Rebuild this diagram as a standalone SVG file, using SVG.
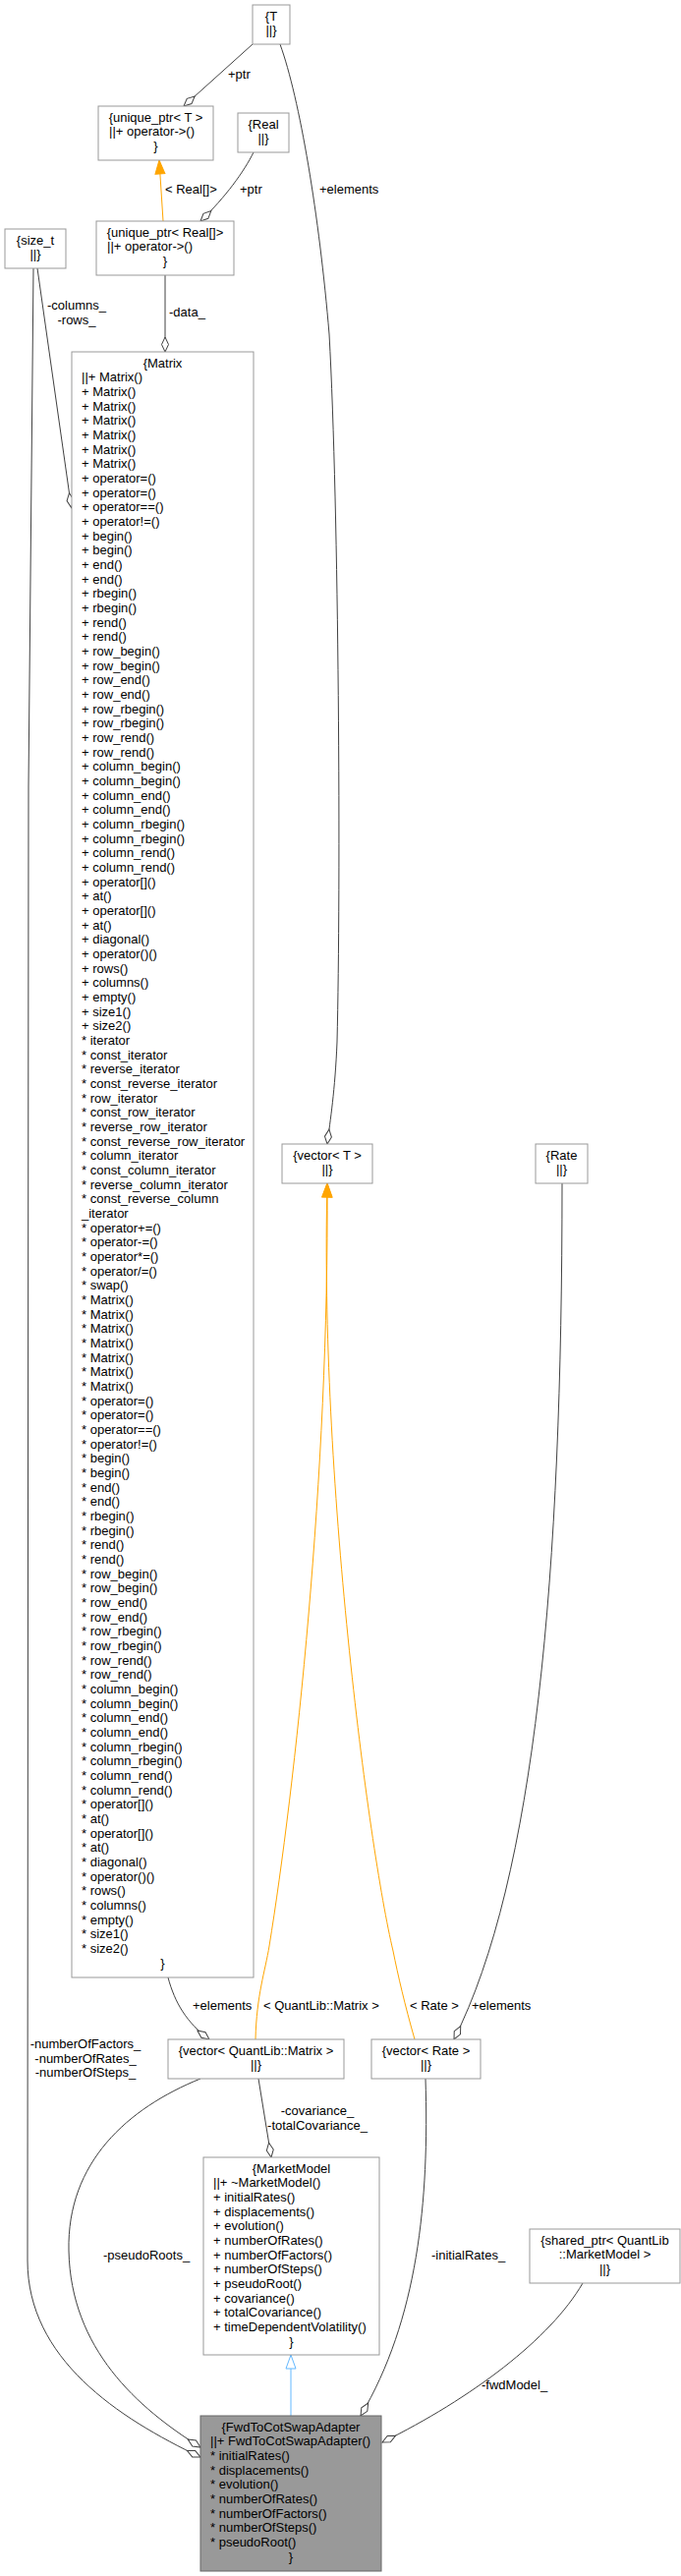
<svg xmlns="http://www.w3.org/2000/svg" width="693" height="2621" viewBox="0 0 693 2621">
<style>
text{font-family:"Liberation Sans",Arial,Helvetica,sans-serif;font-size:13px;fill:#000}
.c{text-anchor:middle}
.n rect{fill:#fff;stroke:#999;stroke-width:1}
.f rect{fill:#999;stroke:#666;stroke-width:1}
.e{fill:none;stroke:#404040;stroke-width:1}
.o{fill:none;stroke:#FFA500;stroke-width:1}
.b{fill:none;stroke:#63B8FF;stroke-width:1}
</style>
<defs>
<marker id="dia" markerUnits="userSpaceOnUse" markerWidth="18" markerHeight="10" refX="15" refY="4" orient="auto" overflow="visible"><path d="M0,4 L7.5,0.5 L15,4 L7.5,7.5 Z" fill="#fff" stroke="#404040" stroke-width="1"/></marker>
<marker id="arr" markerUnits="userSpaceOnUse" markerWidth="16" markerHeight="12" refX="14" refY="5" orient="auto" overflow="visible"><path d="M0,0 L14,5 L0,10 Z" fill="#FFA500" stroke="#FFA500" stroke-width="1"/></marker>
<marker id="inh" markerUnits="userSpaceOnUse" markerWidth="16" markerHeight="12" refX="14" refY="5" orient="auto" overflow="visible"><path d="M0,0 L14,5 L0,10 Z" fill="#fff" stroke="#63B8FF" stroke-width="1"/></marker>
</defs>
<rect x="0" y="0" width="693" height="2621" fill="#fff"/>

<g id="connectors">
<path class="e" d="M257,45 L187,108" marker-end="url(#dia)"/>
<text x="232" y="80">+ptr</text>
<path class="o" d="M166,225 L162,163" marker-end="url(#arr)"/>
<text x="168" y="197">&lt; Real[]&gt;</text>
<path class="e" d="M258,155 C248,175 230,200 204,225" marker-end="url(#dia)"/>
<text x="244" y="197">+ptr</text>
<path class="e" d="M168,280 L168,358" marker-end="url(#dia)"/>
<text x="172" y="322">-data_</text>
<path class="e" d="M38,273 L72.6,516.5" marker-end="url(#dia)"/>
<text class="c" x="78" y="315">-columns_</text>
<text class="c" x="78" y="329.7">-rows_</text>
<path class="e" d="M34,273 L29,800 L28,2300 C28,2400 120,2460 204,2500" marker-end="url(#dia)"/>
<text class="c" x="87" y="2084">-numberOfFactors_</text>
<text class="c" x="87" y="2098.7">-numberOfRates_</text>
<text class="c" x="87" y="2113.4">-numberOfSteps_</text>
<path class="e" d="M285,45 C305,100 325,220 335,340 C345,520 347,900 343,1060 C341,1110 336,1140 333,1164" marker-end="url(#dia)"/>
<text x="325" y="197">+elements</text>
<path class="o" d="M260,2075 C261,2030 270,2005 274,1980 C300,1820 335,1500 333,1204" marker-end="url(#arr)"/>
<text x="268" y="2045">&lt; QuantLib::Matrix &gt;</text>
<path class="o" d="M422,2075 C412,2040 405,2010 400,1985 C375,1880 325,1500 333,1204" marker-end="url(#arr)"/>
<text x="417" y="2045">&lt; Rate &gt;</text>
<path class="e" d="M171,2012 C178,2038 190,2058 213,2075" marker-end="url(#dia)"/>
<text x="196" y="2045">+elements</text>
<path class="e" d="M572,1204 C572,1600 545,1910 462,2075" marker-end="url(#dia)"/>
<text x="480" y="2045">+elements</text>
<path class="e" d="M263,2115 L276,2195" marker-end="url(#dia)"/>
<text class="c" x="323" y="2152">-covariance_</text>
<text class="c" x="323" y="2166.7">-totalCovariance_</text>
<path class="e" d="M204,2115 C130,2145 68,2200 70,2290 C72,2390 140,2450 204,2490" marker-end="url(#dia)"/>
<text x="105" y="2299">-pseudoRoots_</text>
<path class="e" d="M433,2115 C437,2240 425,2360 367,2458" marker-end="url(#dia)"/>
<text x="439" y="2299">-initialRates_</text>
<path class="e" d="M593,2323 C560,2380 480,2440 389,2485" marker-end="url(#dia)"/>
<text x="490" y="2431">-fwdModel_</text>
<path class="b" d="M296,2458 L296,2396" marker-end="url(#inh)"/>
</g>

<g id="node-T" class="n"><rect x="257" y="5" width="38" height="40"/>
<text class="c" x="276" y="20.5">{T</text><text class="c" x="276" y="35.2">||}</text></g>

<g id="node-unique_ptr_T" class="n"><rect x="100" y="108" width="117" height="55"/>
<text class="c" x="158.5" y="123.5">{unique_ptr&lt; T &gt;</text>
<text x="111" y="138.2">||+ operator-&gt;()</text>
<text class="c" x="158.5" y="152.8">}</text></g>

<g id="node-Real" class="n"><rect x="242" y="115" width="52" height="40"/>
<text class="c" x="268" y="130.5">{Real</text><text class="c" x="268" y="145.2">||}</text></g>

<g id="node-unique_ptr_Real" class="n"><rect x="98" y="225" width="140" height="55"/>
<text class="c" x="168" y="240.5">{unique_ptr&lt; Real[]&gt;</text>
<text x="109" y="255.2">||+ operator-&gt;()</text>
<text class="c" x="168" y="269.8">}</text></g>

<g id="node-size_t" class="n"><rect x="5" y="233" width="62" height="40"/>
<text class="c" x="36" y="248.5">{size_t</text><text class="c" x="36" y="263.2">||}</text></g>

<g id="node-Matrix" class="n"><rect x="73" y="358" width="185" height="1654"/>
<text class="c" x="165.5" y="373.5">{Matrix</text>
<text x="83" y="373.5"><tspan x="83" dy="14.667">||+ Matrix()</tspan><tspan x="83" dy="14.667">+ Matrix()</tspan><tspan x="83" dy="14.667">+ Matrix()</tspan><tspan x="83" dy="14.667">+ Matrix()</tspan><tspan x="83" dy="14.667">+ Matrix()</tspan><tspan x="83" dy="14.667">+ Matrix()</tspan><tspan x="83" dy="14.667">+ Matrix()</tspan><tspan x="83" dy="14.667">+ operator=()</tspan><tspan x="83" dy="14.667">+ operator=()</tspan><tspan x="83" dy="14.667">+ operator==()</tspan><tspan x="83" dy="14.667">+ operator!=()</tspan><tspan x="83" dy="14.667">+ begin()</tspan><tspan x="83" dy="14.667">+ begin()</tspan><tspan x="83" dy="14.667">+ end()</tspan><tspan x="83" dy="14.667">+ end()</tspan><tspan x="83" dy="14.667">+ rbegin()</tspan><tspan x="83" dy="14.667">+ rbegin()</tspan><tspan x="83" dy="14.667">+ rend()</tspan><tspan x="83" dy="14.667">+ rend()</tspan><tspan x="83" dy="14.667">+ row_begin()</tspan><tspan x="83" dy="14.667">+ row_begin()</tspan><tspan x="83" dy="14.667">+ row_end()</tspan><tspan x="83" dy="14.667">+ row_end()</tspan><tspan x="83" dy="14.667">+ row_rbegin()</tspan><tspan x="83" dy="14.667">+ row_rbegin()</tspan><tspan x="83" dy="14.667">+ row_rend()</tspan><tspan x="83" dy="14.667">+ row_rend()</tspan><tspan x="83" dy="14.667">+ column_begin()</tspan><tspan x="83" dy="14.667">+ column_begin()</tspan><tspan x="83" dy="14.667">+ column_end()</tspan><tspan x="83" dy="14.667">+ column_end()</tspan><tspan x="83" dy="14.667">+ column_rbegin()</tspan><tspan x="83" dy="14.667">+ column_rbegin()</tspan><tspan x="83" dy="14.667">+ column_rend()</tspan><tspan x="83" dy="14.667">+ column_rend()</tspan><tspan x="83" dy="14.667">+ operator[]()</tspan><tspan x="83" dy="14.667">+ at()</tspan><tspan x="83" dy="14.667">+ operator[]()</tspan><tspan x="83" dy="14.667">+ at()</tspan><tspan x="83" dy="14.667">+ diagonal()</tspan><tspan x="83" dy="14.667">+ operator()()</tspan><tspan x="83" dy="14.667">+ rows()</tspan><tspan x="83" dy="14.667">+ columns()</tspan><tspan x="83" dy="14.667">+ empty()</tspan><tspan x="83" dy="14.667">+ size1()</tspan><tspan x="83" dy="14.667">+ size2()</tspan><tspan x="83" dy="14.667">* iterator</tspan><tspan x="83" dy="14.667">* const_iterator</tspan><tspan x="83" dy="14.667">* reverse_iterator</tspan><tspan x="83" dy="14.667">* const_reverse_iterator</tspan><tspan x="83" dy="14.667">* row_iterator</tspan><tspan x="83" dy="14.667">* const_row_iterator</tspan><tspan x="83" dy="14.667">* reverse_row_iterator</tspan><tspan x="83" dy="14.667">* const_reverse_row_iterator</tspan><tspan x="83" dy="14.667">* column_iterator</tspan><tspan x="83" dy="14.667">* const_column_iterator</tspan><tspan x="83" dy="14.667">* reverse_column_iterator</tspan><tspan x="83" dy="14.667">* const_reverse_column</tspan><tspan x="83" dy="14.667">_iterator</tspan><tspan x="83" dy="14.667">* operator+=()</tspan><tspan x="83" dy="14.667">* operator-=()</tspan><tspan x="83" dy="14.667">* operator*=()</tspan><tspan x="83" dy="14.667">* operator/=()</tspan><tspan x="83" dy="14.667">* swap()</tspan><tspan x="83" dy="14.667">* Matrix()</tspan><tspan x="83" dy="14.667">* Matrix()</tspan><tspan x="83" dy="14.667">* Matrix()</tspan><tspan x="83" dy="14.667">* Matrix()</tspan><tspan x="83" dy="14.667">* Matrix()</tspan><tspan x="83" dy="14.667">* Matrix()</tspan><tspan x="83" dy="14.667">* Matrix()</tspan><tspan x="83" dy="14.667">* operator=()</tspan><tspan x="83" dy="14.667">* operator=()</tspan><tspan x="83" dy="14.667">* operator==()</tspan><tspan x="83" dy="14.667">* operator!=()</tspan><tspan x="83" dy="14.667">* begin()</tspan><tspan x="83" dy="14.667">* begin()</tspan><tspan x="83" dy="14.667">* end()</tspan><tspan x="83" dy="14.667">* end()</tspan><tspan x="83" dy="14.667">* rbegin()</tspan><tspan x="83" dy="14.667">* rbegin()</tspan><tspan x="83" dy="14.667">* rend()</tspan><tspan x="83" dy="14.667">* rend()</tspan><tspan x="83" dy="14.667">* row_begin()</tspan><tspan x="83" dy="14.667">* row_begin()</tspan><tspan x="83" dy="14.667">* row_end()</tspan><tspan x="83" dy="14.667">* row_end()</tspan><tspan x="83" dy="14.667">* row_rbegin()</tspan><tspan x="83" dy="14.667">* row_rbegin()</tspan><tspan x="83" dy="14.667">* row_rend()</tspan><tspan x="83" dy="14.667">* row_rend()</tspan><tspan x="83" dy="14.667">* column_begin()</tspan><tspan x="83" dy="14.667">* column_begin()</tspan><tspan x="83" dy="14.667">* column_end()</tspan><tspan x="83" dy="14.667">* column_end()</tspan><tspan x="83" dy="14.667">* column_rbegin()</tspan><tspan x="83" dy="14.667">* column_rbegin()</tspan><tspan x="83" dy="14.667">* column_rend()</tspan><tspan x="83" dy="14.667">* column_rend()</tspan><tspan x="83" dy="14.667">* operator[]()</tspan><tspan x="83" dy="14.667">* at()</tspan><tspan x="83" dy="14.667">* operator[]()</tspan><tspan x="83" dy="14.667">* at()</tspan><tspan x="83" dy="14.667">* diagonal()</tspan><tspan x="83" dy="14.667">* operator()()</tspan><tspan x="83" dy="14.667">* rows()</tspan><tspan x="83" dy="14.667">* columns()</tspan><tspan x="83" dy="14.667">* empty()</tspan><tspan x="83" dy="14.667">* size1()</tspan><tspan x="83" dy="14.667">* size2()</tspan></text>
<text class="c" x="165.5" y="2001.9">}</text></g>

<g id="node-vector_T" class="n"><rect x="287" y="1164" width="92" height="40"/>
<text class="c" x="333" y="1179.5">{vector&lt; T &gt;</text><text class="c" x="333" y="1194.2">||}</text></g>

<g id="node-Rate" class="n"><rect x="545" y="1164" width="53" height="40"/>
<text class="c" x="571.5" y="1179.5">{Rate</text><text class="c" x="571.5" y="1194.2">||}</text></g>

<g id="node-vector_QM" class="n"><rect x="171" y="2075" width="179" height="40"/>
<text class="c" x="260.5" y="2090.5">{vector&lt; QuantLib::Matrix &gt;</text><text class="c" x="260.5" y="2105.2">||}</text></g>

<g id="node-vector_Rate" class="n"><rect x="378" y="2075" width="111" height="40"/>
<text class="c" x="433.5" y="2090.5">{vector&lt; Rate &gt;</text><text class="c" x="433.5" y="2105.2">||}</text></g>

<g id="node-MarketModel" class="n"><rect x="207" y="2195" width="179" height="201"/>
<text class="c" x="296.5" y="2210.5">{MarketModel</text>
<text x="217" y="2210.5"><tspan x="217" dy="14.667">||+ ~MarketModel()</tspan><tspan x="217" dy="14.667">+ initialRates()</tspan><tspan x="217" dy="14.667">+ displacements()</tspan><tspan x="217" dy="14.667">+ evolution()</tspan><tspan x="217" dy="14.667">+ numberOfRates()</tspan><tspan x="217" dy="14.667">+ numberOfFactors()</tspan><tspan x="217" dy="14.667">+ numberOfSteps()</tspan><tspan x="217" dy="14.667">+ pseudoRoot()</tspan><tspan x="217" dy="14.667">+ covariance()</tspan><tspan x="217" dy="14.667">+ totalCovariance()</tspan><tspan x="217" dy="14.667">+ timeDependentVolatility()</tspan></text>
<text class="c" x="296.5" y="2386.5">}</text></g>

<g id="node-shared_ptr" class="n"><rect x="539" y="2268" width="153" height="55"/>
<text class="c" x="615.5" y="2283.5">{shared_ptr&lt; QuantLib</text>
<text class="c" x="615.5" y="2298.2">::MarketModel &gt;</text>
<text class="c" x="615.5" y="2312.8">||}</text></g>

<g id="node-FwdToCot" class="f"><rect x="204" y="2458" width="184" height="158"/>
<text class="c" x="296" y="2473.5">{FwdToCotSwapAdapter</text>
<text x="214" y="2473.5"><tspan x="214" dy="14.667">||+ FwdToCotSwapAdapter()</tspan><tspan x="214" dy="14.667">* initialRates()</tspan><tspan x="214" dy="14.667">* displacements()</tspan><tspan x="214" dy="14.667">* evolution()</tspan><tspan x="214" dy="14.667">* numberOfRates()</tspan><tspan x="214" dy="14.667">* numberOfFactors()</tspan><tspan x="214" dy="14.667">* numberOfSteps()</tspan><tspan x="214" dy="14.667">* pseudoRoot()</tspan></text>
<text class="c" x="296" y="2605.5">}</text></g>
</svg>
